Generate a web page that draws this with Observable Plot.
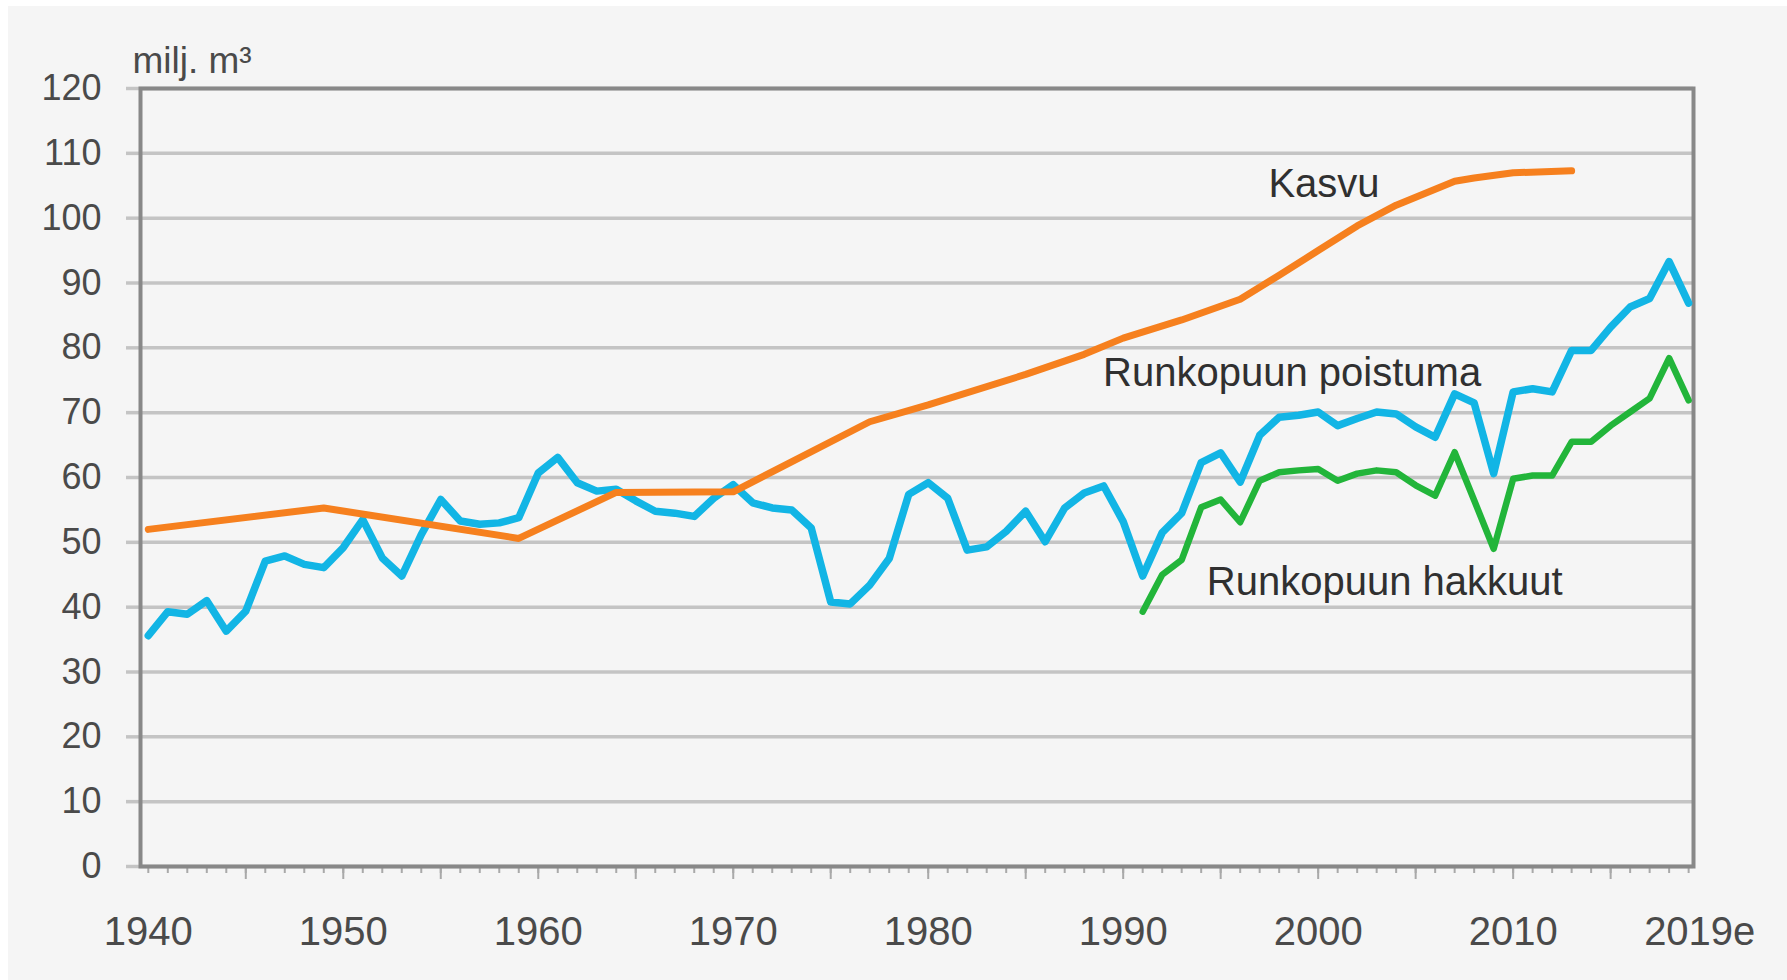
<!DOCTYPE html>
<html>
<head>
<meta charset="utf-8">
<script src="https://cdn.jsdelivr.net/npm/d3@7"></script>
<script src="https://cdn.jsdelivr.net/npm/@observablehq/plot@0.6"></script>
<style>
  html, body { margin: 0; padding: 0; background: #ffffff; width: 1787px; height: 980px; overflow: hidden; }
  #card { position: absolute; left: 8px; top: 6px; right: 0; bottom: 0; background: #f5f5f5; }
  #chart { position: absolute; left: 0; top: 0; }
</style>
</head>
<body>
<div id="card"></div>
<div id="chart"></div>
<script>
// ---- Data ----
const years = d3.range(1940, 2020); // 1940 … 2019

// Runkopuun poistuma (blue), milj. m³, 1940–2019
const poistuma = [
  35.6, 39.3, 38.9, 41.0, 36.3, 39.4, 47.1, 47.9, 46.6, 46.1,
  49.2, 53.5, 47.6, 44.8, 51.2, 56.6, 53.3, 52.8, 53.0, 53.8,
  60.7, 63.1, 59.2, 57.9, 58.2, 56.4, 54.8, 54.5, 54.0, 56.8,
  58.9, 56.1, 55.3, 55.0, 52.2, 40.8, 40.5, 43.4, 47.5, 57.4,
  59.2, 56.8, 48.8, 49.3, 51.7, 54.8, 50.1, 55.3, 57.6, 58.7,
  53.2, 44.8, 51.5, 54.5, 62.3, 63.8, 59.3, 66.5, 69.3, 69.6,
  70.1, 68.0, 69.1, 70.1, 69.8, 67.8, 66.2, 72.9, 71.5, 60.6,
  73.2, 73.7, 73.2, 79.6, 79.6, 83.2, 86.3, 87.6, 93.3, 86.9
];

// Runkopuun hakkuut (green), 1991–2019
const hakkuutYears = d3.range(1991, 2020);
const hakkuut = [
  39.3, 45.0, 47.3, 55.4, 56.6, 53.1, 59.5, 60.8, 61.1,
  61.3, 59.5, 60.6, 61.1, 60.8, 58.8, 57.2, 63.9, 56.5, 49.0,
  59.8, 60.3, 60.3, 65.5, 65.5, 68.0, 70.1, 72.2, 78.4, 71.9
];

// Kasvu (orange): vertices of the line
const kasvuYears = [1940, 1949, 1959, 1964, 1970, 1977, 1980, 1985, 1988, 1990,
                    1993, 1996, 1998, 2000, 2002, 2004, 2007, 2008, 2010, 2013];
const kasvu = [52.0, 55.3, 50.6, 57.7, 57.8, 68.6, 71.2, 75.9, 79.0, 81.5,
               84.3, 87.5, 91.2, 95.0, 98.8, 102.0, 105.7, 106.2, 107.0, 107.3];

// Axis ticks and labels
const yTicks = [0, 10, 20, 30, 40, 50, 60, 70, 80, 90, 100, 110, 120];
const xLabelYears = [1940, 1950, 1960, 1970, 1980, 1990, 2000, 2010];
const xLabels = ["1940", "1950", "1960", "1970", "1980", "1990", "2000", "2010"];
const xLastYear = [2019];
const xLastLabel = "2019e";
const xFiveYears = d3.range(1945, 2020, 5);
const unitLabel = "milj. m³";
const seriesNames = ["Kasvu", "Runkopuun poistuma", "Runkopuun hakkuut"];

// ---- Tables built from the arrays ----
const blueData = years.map((year, i) => ({year, value: poistuma[i]}));
const greenData = hakkuutYears.map((year, i) => ({year, value: hakkuut[i]}));
const orangeData = kasvuYears.map((year, i) => ({year, value: kasvu[i]}));
const labelMap = new Map(xLabelYears.map((y, i) => [y, xLabels[i]]));

const font = "'Liberation Sans', Arial, Helvetica, sans-serif";
const tickText = "#4a4a4a";
const seriesText = "#303030";

const chart = Plot.plot({
  width: 1787,
  height: 980,
  marginLeft: 140,
  marginRight: 94,
  marginTop: 88,
  marginBottom: 114,
  style: {background: "transparent", fontFamily: font, overflow: "visible"},
  x: {domain: [1939.6, 2019.25], axis: null},
  y: {domain: [0, 120], axis: null},
  marks: [
    Plot.gridY(yTicks, {stroke: "#c4c4c4", strokeOpacity: 1, strokeWidth: 3.5}),
    Plot.axisY(yTicks, {
      anchor: "left", tickSize: 14, tickPadding: 25,
      stroke: "#c4c4c4", strokeWidth: 3.5, color: tickText,
      fontSize: 36, label: null, tickFormat: d => String(d)
    }),
    // minor (yearly) ticks, no labels
    Plot.axisX(years, {
      anchor: "bottom", tickSize: 7, tickFormat: () => "", label: null,
      stroke: "#a9a9a9", strokeWidth: 2
    }),
    // 5-year ticks, no labels
    Plot.axisX(xFiveYears, {
      anchor: "bottom", tickSize: 13, tickFormat: () => "", label: null,
      stroke: "#a9a9a9", strokeWidth: 2
    }),
    // decade labels
    Plot.axisX(xLabelYears, {
      anchor: "bottom", tickSize: 0, tickPadding: 50, label: null,
      tickFormat: d => labelMap.get(d), fontSize: 40, color: tickText
    }),
    Plot.axisX(xLastYear, {
      anchor: "bottom", tickSize: 0, tickPadding: 50, label: null,
      tickFormat: () => xLastLabel, textAnchor: "start", dx: -44.5,
      fontSize: 40, color: tickText
    }),
    Plot.frame({stroke: "#888888", strokeWidth: 4}),
    Plot.line(blueData, {x: "year", y: "value", stroke: "#12b5e5", strokeWidth: 7.5, strokeLinejoin: "round"}),
    Plot.line(greenData, {x: "year", y: "value", stroke: "#22b53a", strokeWidth: 6.5, strokeLinejoin: "round"}),
    Plot.line(orangeData, {x: "year", y: "value", stroke: "#f6801e", strokeWidth: 7, strokeLinejoin: "round"}),
    Plot.text([seriesNames[0]], {x: 2000.3, y: 105.3, text: d => d, textAnchor: "middle", lineAnchor: "middle", fontSize: 40, fill: seriesText}),
    Plot.text([seriesNames[1]], {x: 1988.97, y: 76.1, text: d => d, textAnchor: "start", lineAnchor: "middle", fontSize: 40, fill: seriesText}),
    Plot.text([seriesNames[2]], {x: 1994.29, y: 43.9, text: d => d, textAnchor: "start", lineAnchor: "middle", fontSize: 40, fill: seriesText}),
    Plot.text([unitLabel], {frameAnchor: "top-left", text: d => d, textAnchor: "start", lineAnchor: "middle", dx: -8, dy: -27, fontSize: 37, fill: tickText})
  ]
});
document.getElementById("chart").appendChild(chart);
</script>
</body>
</html>
